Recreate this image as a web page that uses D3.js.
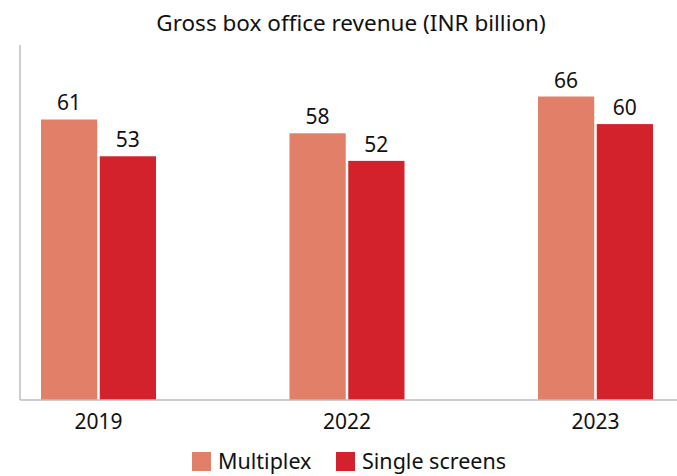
<!DOCTYPE html>
<html>
<head>
<meta charset="utf-8">
<script src="https://cdn.jsdelivr.net/npm/d3@7"></script>
<style>
  body { margin: 0; background: #fff; }
  text { font-family: "Noto Sans", "Open Sans", sans-serif; fill: #111; }
</style>
</head>
<body>
<div id="chart"></div>
<script>
// Chart data
const years = ['2019', '2022', '2023'];
const seriesNames = ['Multiplex', 'Single screens'];
const multiplex = [61, 58, 66];
const singleScreens = [53, 52, 60];
const seriesColors = ['#e27f69', '#d3222b'];

const W = 677, H = 476;
const axisLeft = 20, baseY = 400, topY = 45;

const svg = d3.select('#chart').append('svg')
  .attr('width', W).attr('height', H);

const data = years.map((y, i) => ({ year: y, values: [multiplex[i], singleScreens[i]] }));

// group centres, then a band for the two series inside each group
const x0 = d3.scalePoint().domain(years).range([98.5, 595.5]);
const x1 = d3.scaleBand().domain(seriesNames).range([-57.5, 57.5]).paddingInner(0.043);
const y = d3.scaleLinear().domain([0, 77.2]).range([baseY, topY]);

// Title
svg.append('text')
  .attr('x', 351).attr('y', 31)
  .attr('text-anchor', 'middle')
  .attr('font-size', '22.5px')
  .text('Gross box office revenue (INR billion)');

const groups = svg.selectAll('g.grp')
  .data(data)
  .join('g')
  .attr('class', 'grp')
  .attr('transform', d => `translate(${x0(d.year)},0)`);

const cells = groups.selectAll('g.cell')
  .data(d => d.values.map((v, i) => ({ name: seriesNames[i], v, i })))
  .join('g')
  .attr('class', 'cell');

cells.append('rect')
  .attr('x', d => x1(d.name))
  .attr('y', d => y(d.v))
  .attr('width', x1.bandwidth())
  .attr('height', d => baseY - y(d.v))
  .attr('fill', d => seriesColors[d.i]);

cells.append('text')
  .attr('x', d => x1(d.name) + x1.bandwidth() / 2)
  .attr('y', d => y(d.v) - 9)
  .attr('text-anchor', 'middle')
  .attr('font-size', '21px')
  .text(d => d.v);

// Axes lines
svg.append('line')
  .attr('x1', axisLeft).attr('x2', axisLeft)
  .attr('y1', topY).attr('y2', baseY)
  .attr('stroke', '#bdbdbd').attr('stroke-width', 1.5);
svg.append('line')
  .attr('x1', axisLeft).attr('x2', W)
  .attr('y1', baseY).attr('y2', baseY)
  .attr('stroke', '#bdbdbd').attr('stroke-width', 1.5);

// Year labels
svg.selectAll('text.year')
  .data(years)
  .join('text')
  .attr('class', 'year')
  .attr('x', d => x0(d))
  .attr('y', 429)
  .attr('text-anchor', 'middle')
  .attr('font-size', '21px')
  .text(d => d);

// Legend
const legendX = [192, 336];
const legend = svg.selectAll('g.leg')
  .data(seriesNames)
  .join('g')
  .attr('class', 'leg')
  .attr('transform', (_, i) => `translate(${legendX[i]},452)`);
legend.append('rect')
  .attr('width', 19).attr('height', 19)
  .attr('fill', (_, i) => seriesColors[i]);
legend.append('text')
  .attr('x', 26).attr('y', 17)
  .attr('font-size', '21.5px')
  .text(d => d);
</script>
</body>
</html>
